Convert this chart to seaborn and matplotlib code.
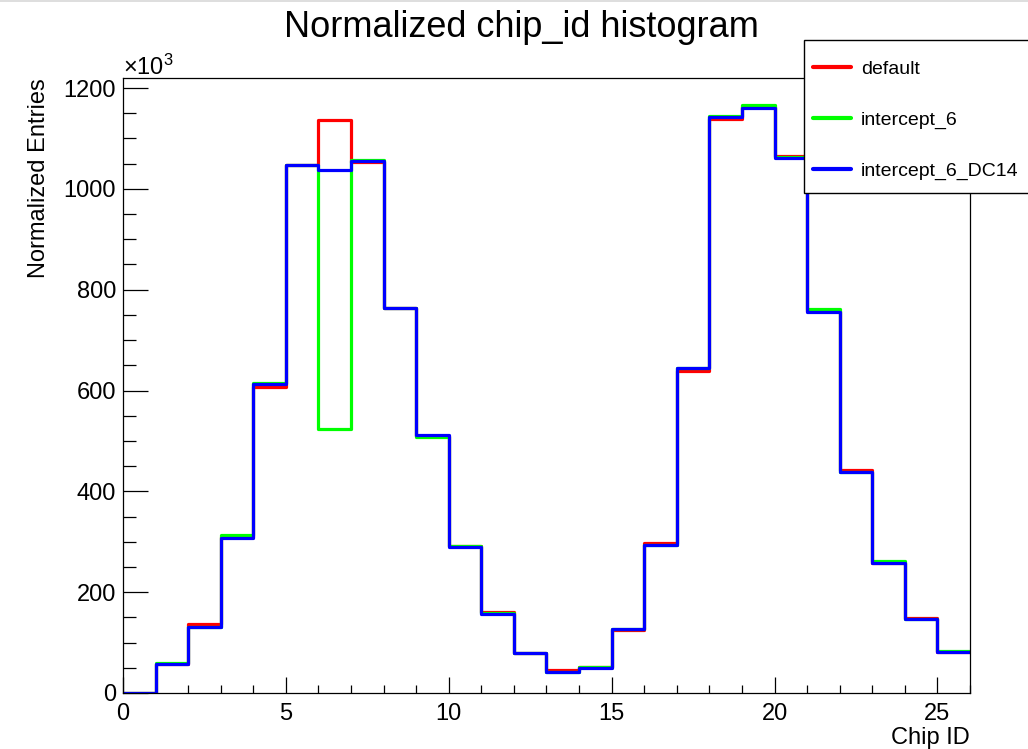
import numpy as np
import pandas as pd
import matplotlib
matplotlib.use("Agg")
import matplotlib.pyplot as plt
import seaborn as sns
from matplotlib.lines import Line2D
from matplotlib.patches import Rectangle
from matplotlib.ticker import MultipleLocator

# chip ids 0..25, one unit-wide bin each
chip_ids = np.arange(0, 26) + 0.5

# normalized entries per chip, in units of 10^3
default = [0, 58, 136, 310, 606, 1048, 1136, 1053, 763, 510,
           292, 160, 79, 45, 51, 125, 297, 638, 1138, 1163,
           1065, 757, 442, 258, 148, 82]
intercept_6 = [0, 60, 131, 313, 615, 1048, 523, 1058, 764, 507,
               292, 158, 80, 42, 52, 126, 294, 645, 1145, 1167,
               1063, 761, 438, 261, 146, 84]
intercept_6_dc14 = [0, 57, 130, 308, 612, 1048, 1037, 1055, 763, 511,
                    290, 157, 79, 42, 50, 126, 294, 645, 1143, 1160,
                    1062, 755, 438, 257, 146, 82]

series_names = ["default", "intercept_6", "intercept_6_DC14"]
series_values = [default, intercept_6, intercept_6_dc14]
series_colors = ["#ff0000", "#00ff00", "#0000ff"]

sns.set_style("ticks", rc={"text.color": "black", "axes.labelcolor": "black",
                           "xtick.color": "black", "ytick.color": "black",
                           "axes.edgecolor": "black"})
plt.rcParams["font.family"] = ["Liberation Sans", "DejaVu Sans"]
plt.rcParams["mathtext.fontset"] = "custom"
plt.rcParams["mathtext.rm"] = "Liberation Sans"

fig = plt.figure(figsize=(10.28, 7.49), dpi=100)
ax = fig.add_axes([0.1196, 0.0748, 0.8240, 0.8211])

for name, vals, col in zip(series_names, series_values, series_colors):
    df = pd.DataFrame({"chip": chip_ids, "entries": vals})
    sns.histplot(data=df, x="chip", weights="entries", binwidth=1,
                 binrange=(0, 26), element="step", fill=False, color=col,
                 linewidth=2.3, label=name, ax=ax)

ax.set_xlim(0, 26)
ax.set_ylim(0, 1220)
ax.xaxis.set_major_locator(MultipleLocator(5))
ax.xaxis.set_minor_locator(MultipleLocator(1))
ax.yaxis.set_major_locator(MultipleLocator(200))
ax.yaxis.set_minor_locator(MultipleLocator(50))

ax.tick_params(axis="y", which="major", direction="in", length=18, width=0.9,
               labelsize=17, pad=5)
ax.tick_params(axis="y", which="minor", direction="in", length=9, width=0.9)
ax.tick_params(axis="x", which="major", direction="in", length=11.5, width=0.9,
               labelsize=17, pad=7)
ax.tick_params(axis="x", which="minor", direction="in", length=6, width=0.9)
for sp in ax.spines.values():
    sp.set_visible(True)
    sp.set_linewidth(0.9)

ax.set_xlabel("Chip ID", loc="right", fontsize=17, labelpad=2)
ax.set_ylabel("Normalized Entries", loc="top", fontsize=17, labelpad=10)
ax.text(0.0, 1.005, "×10$\\mathregular{^3}$", transform=ax.transAxes,
        ha="left", va="baseline", fontsize=17)

fig.text(0.507, 0.963, "Normalized chip_id histogram", ha="center",
         va="center", fontsize=26)

# thin grey border at the top of the screenshot
fig.add_artist(Line2D([0, 1], [0.998, 0.998], transform=fig.transFigure,
                      color="#d8d8d8", linewidth=1.2))

# legend box (ROOT-style TLegend, runs off the right edge)
box = Rectangle((0.782, 0.7423), 0.22, 0.2043, transform=fig.transFigure,
                facecolor="white", edgecolor="black", linewidth=1.0,
                zorder=3)
fig.patches.append(box)

handles, labels = ax.get_legend_handles_labels()
leg = fig.legend(handles, labels, loc="upper left",
                 bbox_to_anchor=(0.791, 0.919), borderaxespad=0,
                 borderpad=0, fontsize=14, frameon=False, handlelength=1.95,
                 handletextpad=0.5, labelspacing=1.7)
leg.set_zorder(4)
for line in leg.get_lines():
    line.set_linewidth(3)

fig.savefig("out.png", dpi=100)
